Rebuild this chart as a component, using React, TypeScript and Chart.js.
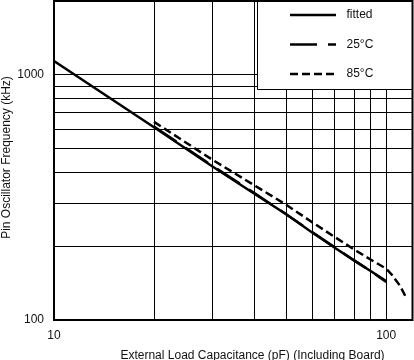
import React, { useEffect, useRef } from "react";
import { Chart, registerables } from "chart.js";

Chart.register(...registerables);

const FONT = "'Liberation Sans', Arial, Helvetica, sans-serif";

// Data (capacitance pF -> frequency kHz)
const fittedCap = [10, 20, 30, 40, 50, 60, 70, 80, 90, 100];
const fittedFreq = [1138, 611, 423, 328, 270, 227, 197, 175, 158, 144];
const cap25 = [20, 30, 40, 50, 60, 70, 80, 90, 100];
const freq25 = [615, 425, 330, 270, 228, 198, 175, 158, 143];
const cap85 = [20, 30, 40, 50, 60, 70, 80, 90, 100, 104, 110, 115];
const freq85 = [643, 450, 355, 295, 250, 218, 194, 176, 162, 153, 138, 123];

const seriesLabels = ["fitted", "25°C", "85°C"];

const xTickValues = [10, 20, 30, 40, 50, 60, 70, 80, 90, 100, 120];
const xLabelValues = [10, 100];
const xGridValues = [20, 30, 40, 50, 60, 70, 80, 90, 100];
const yTickValues = [100, 200, 300, 400, 500, 600, 700, 800, 900, 1000, 2000];
const yLabelValues = [100, 1000];
const yGridValues = [200, 300, 400, 500, 600, 700, 800, 900, 1000];

const xTitle = "External Load Capacitance (pF) (Including Board)";
const yTitle = "Pin Oscillator Frequency (kHz)";

const toPoints = (xs: number[], ys: number[]) => xs.map((x, i) => ({ x, y: ys[i] }));

const zeroPadding = (scale: any) => {
  scale.paddingTop = 0;
  scale.paddingBottom = 0;
  scale.paddingLeft = 0;
  scale.paddingRight = 0;
};

const decorPlugin = {
  id: "decor",
  afterDraw(chart: any) {
    const { ctx, chartArea } = chart;
    const { left, right, top, bottom } = chartArea;
    ctx.save();

    // Legend box
    const bx = 257.5;
    const by = 89.5;
    ctx.fillStyle = "#fff";
    ctx.fillRect(bx, top, right - bx, by - top);
    ctx.strokeStyle = "#000";
    ctx.lineWidth = 1;
    ctx.setLineDash([]);
    ctx.beginPath();
    ctx.moveTo(bx, top);
    ctx.lineTo(bx, by);
    ctx.lineTo(right, by);
    ctx.stroke();

    const rows = [15, 44.5, 74];
    chart.data.datasets.forEach((ds: any, i: number) => {
      const y = rows[i];
      ctx.strokeStyle = ds.borderColor;
      ctx.lineWidth = ds.borderWidth;
      ctx.lineCap = "butt";
      ctx.setLineDash(ds.borderDash || []);
      ctx.beginPath();
      ctx.moveTo(290, y);
      ctx.lineTo(336, y);
      ctx.stroke();
      ctx.setLineDash([]);
      ctx.fillStyle = "#111";
      ctx.font = `12px ${FONT}`;
      ctx.textAlign = "left";
      ctx.textBaseline = "middle";
      ctx.fillText(ds.label, 346.5, y);
    });

    // Plot frame
    ctx.setLineDash([]);
    ctx.strokeStyle = "#000";
    ctx.lineWidth = 2;
    ctx.strokeRect(left, top, right - left, bottom - top);

    // Axis titles
    ctx.fillStyle = "#111";
    ctx.font = `12px ${FONT}`;
    ctx.textAlign = "center";
    ctx.textBaseline = "alphabetic";
    ctx.fillText(xTitle, 252.5, 358.5);

    ctx.translate(10, 157.5);
    ctx.rotate(-Math.PI / 2);
    ctx.fillText(yTitle, 0, 0);
    ctx.restore();
  },
};

export default function App() {
  const canvasRef = useRef<HTMLCanvasElement | null>(null);

  useEffect(() => {
    if (!canvasRef.current) return;
    const chart = new Chart(canvasRef.current, {
      type: "line",
      data: {
        datasets: [
          {
            label: seriesLabels[0],
            data: toPoints(fittedCap, fittedFreq),
            borderColor: "#000",
            borderWidth: 2.5,
            pointRadius: 0,
            tension: 0,
          },
          {
            label: seriesLabels[1],
            data: toPoints(cap25, freq25),
            borderColor: "#000",
            borderWidth: 2.5,
            borderDash: [27, 11],
            pointRadius: 0,
            tension: 0,
          },
          {
            label: seriesLabels[2],
            data: toPoints(cap85, freq85),
            borderColor: "#000",
            borderWidth: 2.5,
            borderDash: [8, 4],
            pointRadius: 0,
            tension: 0,
          },
        ],
      },
      options: {
        animation: false,
        responsive: false,
        maintainAspectRatio: false,
        layout: { padding: { top: 1, right: 1.5, left: 0, bottom: 0 } },
        plugins: {
          legend: { display: false },
          tooltip: { enabled: false },
        },
        scales: {
          x: {
            type: "logarithmic",
            min: 10,
            max: 120,
            afterBuildTicks: (scale: any) => {
              scale.ticks = xTickValues.map((v) => ({ value: v }));
            },
            afterFit: (scale: any) => {
              scale.height = 40;
              zeroPadding(scale);
            },
            border: { display: false },
            grid: {
              drawTicks: false,
              lineWidth: 1,
              color: (c: any) =>
                c.tick && xGridValues.includes(c.tick.value) ? "#000" : "rgba(0,0,0,0)",
            },
            ticks: {
              autoSkip: false,
              maxRotation: 0,
              padding: 8,
              color: "#111",
              font: { family: FONT, size: 12 },
              callback: (v: any) => (xLabelValues.includes(Number(v)) ? String(v) : ""),
            },
          },
          y: {
            type: "logarithmic",
            min: 100,
            max: 2000,
            afterBuildTicks: (scale: any) => {
              scale.ticks = yTickValues.map((v) => ({ value: v }));
            },
            afterFit: (scale: any) => {
              scale.width = 54;
              zeroPadding(scale);
            },
            border: { display: false },
            grid: {
              drawTicks: false,
              lineWidth: 1,
              color: (c: any) =>
                c.tick && yGridValues.includes(c.tick.value) ? "#000" : "rgba(0,0,0,0)",
            },
            ticks: {
              autoSkip: false,
              padding: 10,
              color: "#111",
              font: { family: FONT, size: 12 },
              callback: (v: any) => (yLabelValues.includes(Number(v)) ? String(v) : ""),
            },
          },
        },
      },
      plugins: [decorPlugin],
    });
    return () => chart.destroy();
  }, []);

  return (
    <div style={{ position: "absolute", left: 0, top: 0, width: 414, height: 360, background: "#fff" }}>
      <canvas ref={canvasRef} width={414} height={360} style={{ display: "block", width: 414, height: 360 }} />
    </div>
  );
}
